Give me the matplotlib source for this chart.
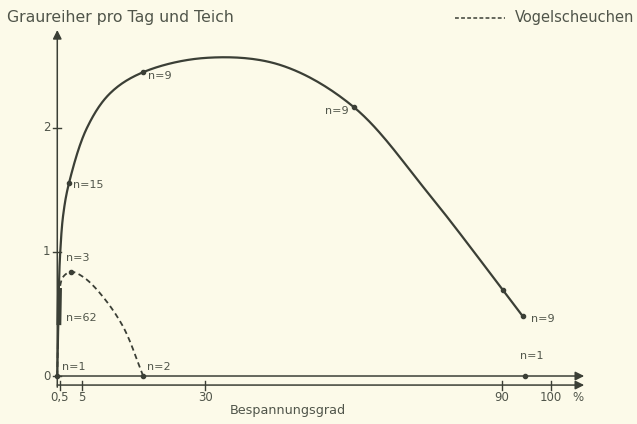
import matplotlib.pyplot as plt
import numpy as np

# Graureiher pro Tag und Teich vs. Bespannungsgrad (%)
# traced curve points
solid_x = [0, 0.15, 0.35, 0.6, 1.2, 2.4, 6, 10.7, 17.4, 30, 45, 60, 75, 90.3, 94.3]
solid_y = [0, 0.35, 0.75, 1.0, 1.3, 1.56, 2.0, 2.28, 2.45, 2.565, 2.51, 2.17, 1.48, 0.69, 0.48]

dashed_x = [0, 0.2, 0.45, 1.2, 2.8, 5.2, 8.6, 13.3, 17.4]
dashed_y = [0, 0.4, 0.69, 0.8, 0.84, 0.80, 0.67, 0.40, 0]

# marked points with sample sizes
solid_pts_x = [0, 2.4, 17.4, 60, 90.3, 94.3]
solid_pts_y = [0, 1.56, 2.45, 2.17, 0.69, 0.48]
dashed_pts_x = [2.8, 17.4, 94.7]
dashed_pts_y = [0.84, 0, 0]
n62_range = [0.43, 0.69]

labels = ["n=1", "n=62", "n=3", "n=15", "n=9", "n=9", "n=9", "n=2", "n=1"]
label_x = [1.0, 1.7, 1.7, 3.2, 18.3, 59.0, 96.0, 18.2, 96.1]
label_y = [0.07, 0.47, 0.95, 1.54, 2.42, 2.14, 0.46, 0.07, 0.16]
label_ha = ["left", "left", "left", "left", "left", "right", "left", "left", "center"]

xticks = [0.5, 5, 30, 90, 100]
xticklabels = ["0,5", "5", "30", "90", "100"]
yticks = [0, 1, 2]

bg = "#fcfae9"
ink = "#3b3f36"
txt = "#50554a"


def smooth(xs, ys, sx=4.94, sy=124.0, n=30):
    # centripetal catmull-rom through the traced points, in pixel-like units
    p = np.column_stack([np.array(xs) * sx, np.array(ys) * sy])
    p = np.vstack([2 * p[0] - p[1], p, 2 * p[-1] - p[-2]])
    out = []
    for i in range(1, len(p) - 2):
        p0, p1, p2, p3 = p[i - 1], p[i], p[i + 1], p[i + 2]
        t0 = 0.0
        t1 = t0 + np.linalg.norm(p1 - p0) ** 0.5
        t2 = t1 + np.linalg.norm(p2 - p1) ** 0.5
        t3 = t2 + np.linalg.norm(p3 - p2) ** 0.5
        t = np.linspace(t1, t2, n, endpoint=False)[:, None]
        a1 = (t1 - t) / (t1 - t0) * p0 + (t - t0) / (t1 - t0) * p1
        a2 = (t2 - t) / (t2 - t1) * p1 + (t - t1) / (t2 - t1) * p2
        a3 = (t3 - t) / (t3 - t2) * p2 + (t - t2) / (t3 - t2) * p3
        b1 = (t2 - t) / (t2 - t0) * a1 + (t - t0) / (t2 - t0) * a2
        b2 = (t3 - t) / (t3 - t1) * a2 + (t - t1) / (t3 - t1) * a3
        out.append((t2 - t) / (t2 - t1) * b1 + (t - t1) / (t2 - t1) * b2)
    out.append(p[-2][None, :])
    out = np.vstack(out)
    return out[:, 0] / sx, out[:, 1] / sy


fig = plt.figure(figsize=(6.37, 4.24), dpi=100, facecolor=bg)
ax = fig.add_axes([0, 0, 1, 1], facecolor=bg)
ax.set_xlim(-11.6, 117.4)
ax.set_ylim(-0.387, 3.032)
ax.axis("off")

arrow = dict(arrowstyle="-|>", color=ink, lw=1.1, mutation_scale=13, shrinkA=0, shrinkB=0)
# y axis
ax.annotate("", xy=(0, 2.79), xytext=(0, -0.09), arrowprops=arrow)
# zero line and x axis
ax.annotate("", xy=(106.7, 0), xytext=(0, 0), arrowprops=arrow)
ax.annotate("", xy=(106.7, -0.073), xytext=(0, -0.073), arrowprops=arrow)

for t in yticks:
    ax.plot([-0.9, 0.8], [t, t], color=ink, lw=1)
    ax.text(-1.4, t, str(t), ha="right", va="center", fontsize=8.5, color=txt)
for t, lab in zip(xticks, xticklabels):
    ax.plot([t, t], [-0.04, -0.11], color=ink, lw=1)
    ax.text(t, -0.17, lab, ha="center", va="center", fontsize=8.5, color=txt)
ax.text(105.5, -0.17, "%", ha="center", va="center", fontsize=8.5, color=txt)

ax.text(46.7, -0.275, "Bespannungsgrad", ha="center", va="center", fontsize=9.2, color=txt)
ax.text(-10.2, 2.887, "Graureiher pro Tag und Teich", ha="left", va="center", fontsize=11.3, color=txt)

# legend for dashed line
ax.plot([80.6, 90.7], [2.887, 2.887], color=ink, lw=1.1, ls=(0, (2.5, 1.5)))
ax.text(92.6, 2.887, "Vogelscheuchen", ha="left", va="center", fontsize=10.5, color=txt)

sx_, sy_ = smooth(solid_x, solid_y)
ax.plot(sx_, sy_, color=ink, lw=1.6)
dx_, dy_ = smooth(dashed_x, dashed_y)
ax.plot(dx_, dy_, color=ink, lw=1.3, ls=(0, (3, 2)))
ax.plot([0.33, 0.45], n62_range, color=ink, lw=3.5)

ax.plot(solid_pts_x, solid_pts_y, "o", color=ink, ms=3)
ax.plot(dashed_pts_x, dashed_pts_y, "o", color=ink, ms=3)

for lab, x, y, ha in zip(labels, label_x, label_y, label_ha):
    ax.text(x, y, lab, ha=ha, va="center", fontsize=8, color=txt)

plt.savefig("out.png", dpi=100, facecolor=bg)
